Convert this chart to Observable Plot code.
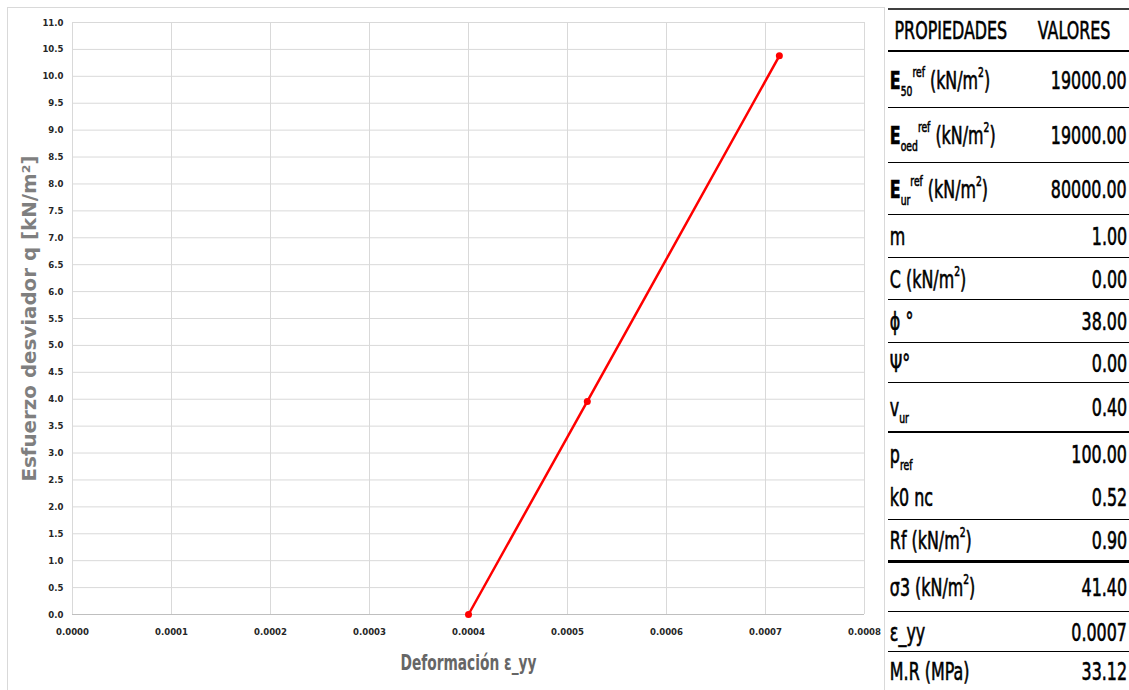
<!DOCTYPE html>
<html>
<head>
<meta charset="utf-8">
<script src="https://cdn.jsdelivr.net/npm/d3@7"></script>
<script src="https://cdn.jsdelivr.net/npm/@observablehq/plot@0.6"></script>
<style>
  html, body { margin: 0; padding: 0; background: #fff; }
  #wrap { position: relative; width: 1129px; height: 690px; overflow: hidden; background: #fff; }
  #chartBorder { position: absolute; left: 7px; top: 7px; width: 878px; height: 700px; border: 1px solid #d9d9d9; box-sizing: border-box; }
  #chart { position: absolute; left: 0; top: 0; }
  #chart svg [aria-label="x-axis label"] text { font-size: 21px; font-weight: bold; fill: #666666; font-family: "DejaVu Sans Condensed", sans-serif; }
  #chart svg [aria-label="y-axis label"] text { font-size: 19px; font-weight: bold; fill: #7f7f7f; font-family: "DejaVu Sans Condensed", sans-serif; }
  #table { position: absolute; left: 888px; top: 8px; width: 241px; font-family: "DejaVu Sans Condensed", sans-serif; color: #000; }
  .row { position: relative; display: flex; align-items: center; justify-content: space-between; box-sizing: border-box; }
  .row .lab, .row .val { display: inline-block; font-size: 19px; font-weight: normal; white-space: nowrap; -webkit-text-stroke: 0.45px #000; }
  .row .lab { padding-left: 2px; transform-origin: left center; transform: scale(0.93, 1.32); }
  .row .val { padding-right: 2px; transform-origin: right center; transform: scale(0.93, 1.32); }
  .row b { font-weight: bold; }
  sup { font-size: 11px; vertical-align: 0; position: relative; top: -9px; }
  sub { font-size: 11px; vertical-align: 0; position: relative; top: 5px; }
</style>
</head>
<body>
<div id="wrap">
  <div id="chartBorder"></div>
  <div id="chart"></div>
  <div id="table"></div>
</div>
<script>
// ---- chart data ----
const strain = [0.0004, 0.00052, 0.000714];
const deviatorStress = [0.0, 3.96, 10.38];
const xTicks = [0, 0.0001, 0.0002, 0.0003, 0.0004, 0.0005, 0.0006, 0.0007, 0.0008];
const yTicks = [0, 0.5, 1, 1.5, 2, 2.5, 3, 3.5, 4, 4.5, 5, 5.5, 6, 6.5, 7, 7.5, 8, 8.5, 9, 9.5, 10, 10.5, 11];
const xLabel = "Deformación ε_yy";
const yLabel = "Esfuerzo desviador q [kN/m²]";

// ---- table data ----
const tableHeader = ["PROPIEDADES", "VALORES"];
const propNames = ["E", "E", "E", "m", "C", "ϕ °", "Ψ°", "v", "p", "k0 nc", "Rf", "σ3", "ε_yy", "M.R (MPa)"];
const propSubs  = ["50", "oed", "ur", "", "", "", "", "ur", "ref", "", "", "", "", ""];
const propSups  = ["ref", "ref", "ref", "", "", "", "", "", "", "", "", "", "", ""];
const propUnits = ["kN/m2", "kN/m2", "kN/m2", "", "kN/m2", "", "", "", "", "", "kN/m2", "kN/m2", "", ""];
const propValues = ["19000.00", "19000.00", "80000.00", "1.00", "0.00", "38.00", "0.00", "0.40", "100.00", "0.52", "0.90", "41.40", "0.0007", "33.12"];

// ---- table layout (style only) ----
const rowHeights = [44, 56, 55, 52, 43, 42, 43, 40, 50, 42, 45, 43, 49, 40, 38];
const rowBorders = [2.5, 1.5, 1.5, 1.5, 1.5, 1.5, 1.5, 1.5, 2, 0, 1.5, 3, 1.5, 1.5, 0];

const data = strain.map((s, i) => ({x: s, y: deviatorStress[i]}));

const fontTicks = '"DejaVu Sans Condensed", sans-serif';

const plot = Plot.plot({
  width: 885,
  height: 690,
  marginLeft: 72,
  marginTop: 22,
  marginRight: 21,
  marginBottom: 76,
  style: {background: "transparent", fontFamily: fontTicks, fontSize: "9.5px", fontWeight: "bold", color: "#262626"},
  x: {domain: [0, 0.0008]},
  y: {domain: [0, 11]},
  marks: [
    Plot.gridX(xTicks, {stroke: "#d9d9d9", strokeOpacity: 1}),
    Plot.gridY(yTicks, {stroke: "#d9d9d9", strokeOpacity: 1}),
    Plot.ruleY([0], {stroke: "#bfbfbf"}),
    Plot.axisX(xTicks, {tickSize: 0, tickPadding: 14, tickFormat: d3.format(".4f"), label: xLabel, labelAnchor: "center", labelArrow: "none", labelOffset: 55}),
    Plot.axisY(yTicks, {tickSize: 0, tickPadding: 9, tickFormat: d3.format(".1f"), label: yLabel, labelAnchor: "center", labelArrow: "none", labelOffset: 50}),
    Plot.line(data, {x: "x", y: "y", stroke: "#ff0000", strokeWidth: 2.5}),
    Plot.dot(data, {x: "x", y: "y", r: 3.5, fill: "#ff0000", stroke: "none"})
  ]
});
document.getElementById("chart").appendChild(plot);
// compress axis labels horizontally to imitate the narrow original typeface
const xl = plot.querySelector('[aria-label="x-axis label"] text');
if (xl) { xl.setAttribute("textLength", 136); xl.setAttribute("lengthAdjust", "spacingAndGlyphs"); }
const yl = plot.querySelector('[aria-label="y-axis label"] text');
if (yl) { yl.setAttribute("textLength", 326); yl.setAttribute("lengthAdjust", "spacingAndGlyphs"); }

// ---- build table ----
const table = document.getElementById("table");
function unitHTML(u) {
  if (!u) return "";
  return " (" + u.replace("2", "<sup>2</sup>") + ")";
}
const header = document.createElement("div");
header.className = "row";
header.style.height = rowHeights[0] + "px";
header.style.borderTop = "2px solid #404040";
header.style.borderBottom = rowBorders[0] + "px solid #000";
header.innerHTML = `<span class="lab" style="padding-left:7px">${tableHeader[0]}</span><span class="val" style="padding-right:20px">${tableHeader[1]}</span>`;
table.appendChild(header);
propNames.forEach((n, i) => {
  const r = document.createElement("div");
  r.className = "row";
  r.style.height = rowHeights[i + 1] + "px";
  const b = rowBorders[i + 1];
  if (b) r.style.borderBottom = b + "px solid #000";
  let lab = propSups[i] ? `<b>${n}</b>` : n;
  if (propSubs[i]) lab += `<sub>${propSubs[i]}</sub>`;
  if (propSups[i]) lab += `<sup>${propSups[i]}</sup>`;
  lab += unitHTML(propUnits[i]);
  r.innerHTML = `<span class="lab">${lab}</span><span class="val">${propValues[i]}</span>`;
  table.appendChild(r);
});
</script>
</body>
</html>
